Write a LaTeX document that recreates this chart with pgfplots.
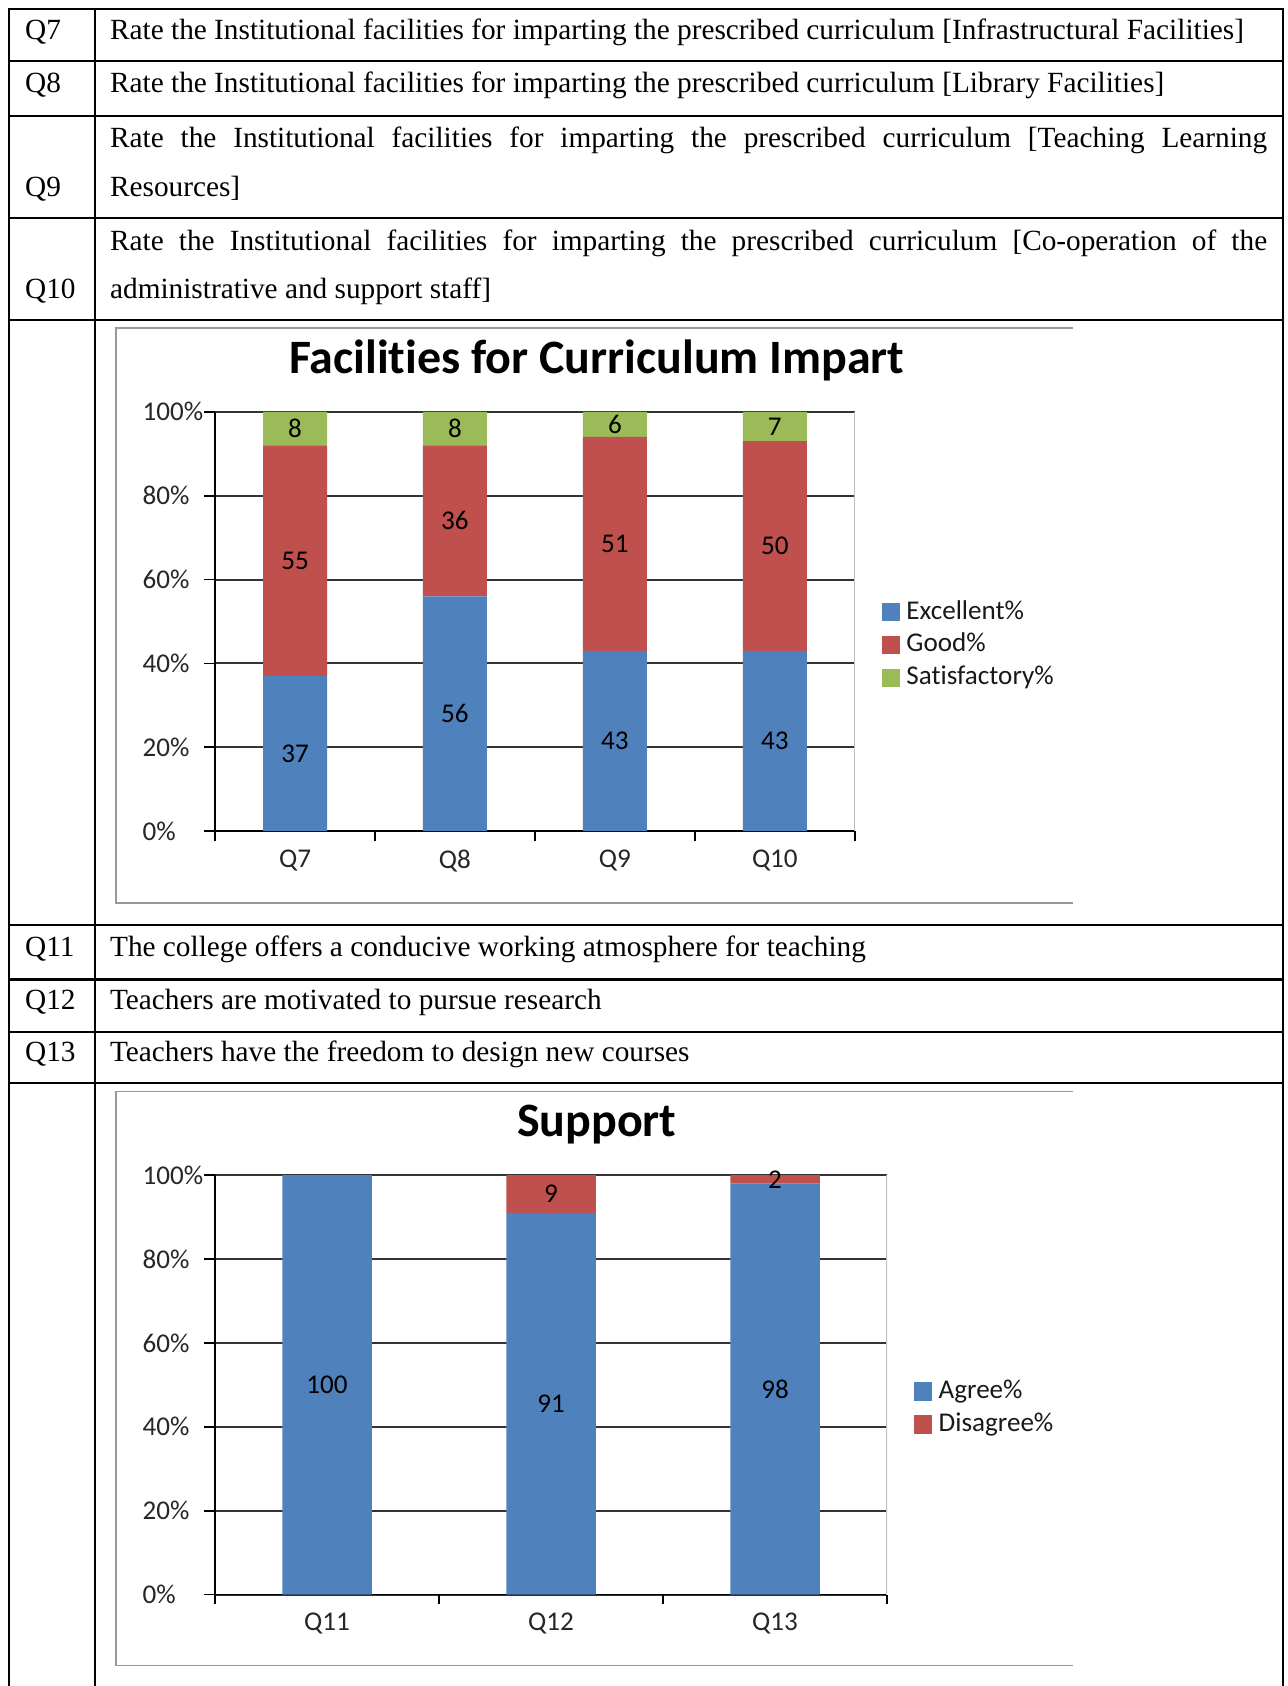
\documentclass[border=0pt]{standalone}
\usepackage{pgfplots}
\pgfplotsset{compat=1.18}
\usepackage{fontspec}
\setmainfont{Liberation Serif}
\newfontfamily\chartfont[Ligatures=NoCommon]{Carlito}
\definecolor{exc}{HTML}{4F81BD}
\definecolor{good}{HTML}{C0504D}
\definecolor{sat}{HTML}{9BBB59}
\newcommand{\cf}{\chartfont\fontsize{12.6}{14}\selectfont}
\pgfplotsset{
  sqlegend/.style={legend image code/.code={\fill[##1] (0pt,-4.25pt) rectangle (8.5pt,4.25pt);}},
  xlchart/.style={
    scale only axis,
    height=195pt,
    ymin=0, ymax=100,
    enlargelimits=false,
    ybar stacked,
    bar width=0.4,
    axis lines*=left,
    axis line style={black, line width=0.8pt},
    tick align=outside,
    ytick={0,20,40,60,80,100},
    yticklabel={\rlap{\pgfmathprintnumber{\tick}\%}\phantom{100\%}},
    yticklabel style={xshift=3pt},
    ymajorgrids,
    major grid style={black!80, line width=0.9pt},
    major tick length=5pt,
    minor tick length=4.5pt,
    major x tick style={draw=none},
    tick style={black, line width=0.8pt},
    ticklabel style={font=\cf, text=black!85},
    /pgf/number format/assume math mode=true,
    legend style={draw=none, fill=none, anchor=west, font=\cf, text=black!90,
      inner sep=0pt, outer sep=0pt, row sep=3.75pt,
      /tikz/column 1/.style={column sep=3pt},
      nodes={inner sep=0pt, text height=9pt, text depth=2.5pt}},
    legend cell align=left,
    sqlegend,
    title style={anchor=base, font=\chartfont\bfseries\fontsize{22.3}{26}\selectfont, inner sep=0pt, text=black},
  },
  lblaxis/.style={
    scale only axis, height=195pt, ymin=0, ymax=100, enlargelimits=false,
    hide axis, clip=false,
    nodes near coords, point meta=explicit symbolic,
    every node near coord/.append style={anchor=center, font=\cf, text=black, inner sep=0pt},
  }
}
\tikzset{tt/.style={anchor=base west, inner sep=0pt, font=\fontsize{13.62}{16}\selectfont}}
\begin{document}
\begin{tikzpicture}
\useasboundingbox (0,0) rectangle (598.5pt,784pt);
% table rules
\begin{scope}[line width=1pt]
\draw (4pt,0) -- (4pt,780pt) -- (596.5pt,780pt) -- (596.5pt,0);
\draw (44pt,0) -- (44pt,780pt);
\foreach \y in {755.5,730,682.5,635,354,328.5,304,280.5} \draw (4pt,\y pt) -- (596.5pt,\y pt);
\end{scope}
% table text
\node[tt] at (11.5pt,765.5pt) {Q7};
\node[tt] at (51pt,765.5pt) {Rate the Institutional facilities for imparting the prescribed curriculum [Infrastructural Facilities]};
\node[tt] at (11.5pt,741pt) {Q8};
\node[tt] at (51pt,741pt) {Rate the Institutional facilities for imparting the prescribed curriculum [Library Facilities]};
\node[tt] at (51pt,715.5pt) {\makebox[538pt][s]{Rate the Institutional facilities for imparting the prescribed curriculum [Teaching Learning}};
\node[tt] at (11.5pt,692.5pt) {Q9};
\node[tt] at (51pt,692.5pt) {Resources]};
\node[tt] at (51pt,667.5pt) {\makebox[538pt][s]{Rate the Institutional facilities for imparting the prescribed curriculum [Co-operation of the}};
\node[tt] at (11.5pt,645pt) {Q10};
\node[tt] at (51pt,645pt) {administrative and support staff]};
\node[tt] at (11.5pt,339pt) {Q11};
\node[tt] at (51pt,339pt) {The college offers a conducive working atmosphere for teaching};
\node[tt] at (11.5pt,314.5pt) {Q12};
\node[tt] at (51pt,314.5pt) {Teachers are motivated to pursue research};
\node[tt] at (11.5pt,290.5pt) {Q13};
\node[tt] at (51pt,290.5pt) {Teachers have the freedom to design new courses};
% chart frames
\draw[black!40, line width=0.8pt] (499pt,631.5pt) -- (54pt,631.5pt) -- (54pt,364pt) -- (499pt,364pt);
\draw[black!40, line width=0.8pt] (499pt,276.5pt) -- (54pt,276.5pt) -- (54pt,9.5pt) -- (499pt,9.5pt);
% chart 1
\begin{axis}[xlchart, at={(100pt,397.5pt)}, anchor=south west, width=297.5pt,
  xmin=-0.5, xmax=3.5, xtick={0,1,2,3}, xticklabels={Q7,Q8,Q9,Q10},
  minor xtick={-0.5,0.5,1.5,2.5,3.5},
  title={Facilities for Curriculum Impart},
  title style={at={(axis description cs:0.5966,1.0615)}},
  legend style={at={(axis description cs:1.042,0.444)}}]
\addplot[fill=exc, draw=none, sqlegend] coordinates {(0,37) (1,56) (2,43) (3,43)};
\addplot[fill=good, draw=none, sqlegend] coordinates {(0,55) (1,36) (2,51) (3,50)};
\addplot[fill=sat, draw=none, sqlegend] coordinates {(0,8) (1,8) (2,6) (3,7)};
\draw[black!25, line width=0.8pt] (rel axis cs:1,0) -- (rel axis cs:1,1);
\legend{Excellent\%,Good\%,Satisfactory\%}
\end{axis}
\begin{axis}[lblaxis, at={(100pt,397.5pt)}, anchor=south west, width=297.5pt, xmin=-0.5, xmax=3.5]
\addplot[draw=none] coordinates {(0,18.5)[37] (1,28)[56] (2,21.5)[43] (3,21.5)[43]
  (0,64.5)[55] (1,74)[36] (2,68.5)[51] (3,68)[50]
  (0,96)[8] (1,96)[8] (2,97)[6] (3,96.5)[7]};
\end{axis}
% chart 2
\begin{axis}[xlchart, at={(100pt,42.5pt)}, anchor=south west, width=312.5pt,
  xmin=-0.5, xmax=2.5, xtick={0,1,2}, xticklabels={Q11,Q12,Q13},
  minor xtick={-0.5,0.5,1.5,2.5},
  title={Support},
  title style={at={(axis description cs:0.568,1.0616)}},
  legend style={at={(axis description cs:1.04,0.445)}}]
\addplot[fill=exc, draw=none, sqlegend] coordinates {(0,100) (1,91) (2,98)};
\addplot[fill=good, draw=none, sqlegend] coordinates {(0,0) (1,9) (2,2)};
\draw[black!25, line width=0.8pt] (rel axis cs:1,0) -- (rel axis cs:1,1);
\legend{Agree\%,Disagree\%}
\end{axis}
\begin{axis}[lblaxis, at={(100pt,42.5pt)}, anchor=south west, width=312.5pt, xmin=-0.5, xmax=2.5]
\addplot[draw=none] coordinates {(0,50)[100] (1,45.5)[91] (2,49)[98] (1,95.5)[9] (2,99)[2]};
\end{axis}
\end{tikzpicture}
\end{document}
